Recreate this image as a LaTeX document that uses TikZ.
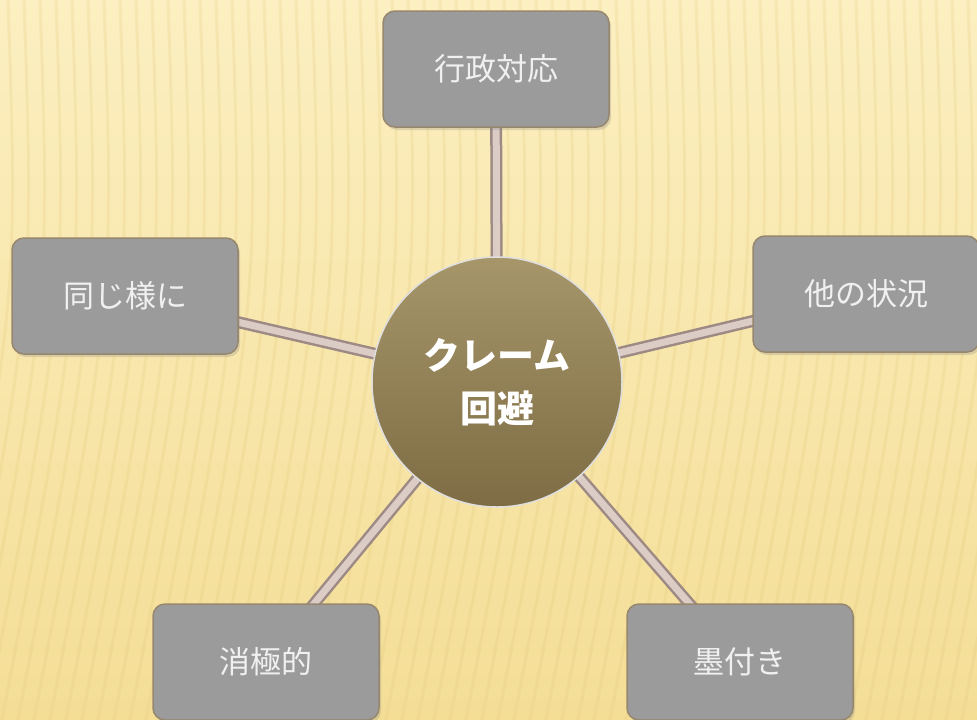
\documentclass[tikz,border=0pt]{standalone}
\usepackage{fontspec}
\newfontfamily\cjk{Noto Sans CJK JP}
\usetikzlibrary{shadows}

\definecolor{bgtop}{RGB}{252,239,193}
\definecolor{bgbot}{RGB}{244,222,150}
\definecolor{stripe}{RGB}{226,200,120}
\definecolor{boxgray}{RGB}{155,155,155}
\definecolor{boxline}{RGB}{150,135,110}
\definecolor{hubtop}{RGB}{166,150,106}
\definecolor{hubbot}{RGB}{126,108,68}
\definecolor{rodout}{RGB}{158,138,132}
\definecolor{rodin}{RGB}{220,204,198}

\pgfdeclarelayer{bg}
\pgfdeclarelayer{links}
\pgfsetlayers{bg,links,main}

\begin{document}
\begin{tikzpicture}[x=1pt, y=-1pt,
  leaf/.style = {draw=boxline, line width=1.5pt, fill=boxgray, rounded corners=12pt,
    minimum width=226pt, minimum height=116pt, text=white!94!black,
    font=\cjk\fontsize{31}{36}\selectfont, drop shadow={opacity=0.25, shadow xshift=2pt, shadow yshift=-3pt}},
  hub/.style = {circle, draw=white!75!gray, line width=1.5pt, minimum size=250pt,
    top color=hubtop, bottom color=hubbot, text=white, align=center,
    font=\cjk\bfseries\fontsize{37}{53}\selectfont},
  rod/.style = {line width=12pt, draw=rodout},
  rodcore/.style = {line width=7pt, draw=rodin}]

  \useasboundingbox (0,0) rectangle (977,720);

  % Background
  \begin{pgfonlayer}{bg}
    \shade[top color=bgtop, bottom color=bgbot] (0,0) rectangle (977,720);
    \foreach \x in {-200,-184,...,1100}
      \draw[stripe, line width=3pt, opacity=0.22] (\x,0) .. controls (\x+10,300) .. (\x-70,720);
  \end{pgfonlayer}

  % Nodes
  \node[hub] (avoid) at (497,382) {クレーム\\回避};
  \node[leaf] (admin) at (496,69) {行政対応};
  \node[leaf] (other) at (866,294) {他の状況};
  \node[leaf] (same) at (125,296) {同じ様に};
  \node[leaf] (passive) at (266,662) {消極的};
  \node[leaf] (seal) at (740,662) {墨付き};

  % Paths
  \begin{pgfonlayer}{links}
    \foreach \t in {admin, other, same, passive, seal} {
      \draw[rod] (avoid.center) -- (\t.center);
      \draw[rodcore] (avoid.center) -- (\t.center);
    }
  \end{pgfonlayer}
\end{tikzpicture}
\end{document}
